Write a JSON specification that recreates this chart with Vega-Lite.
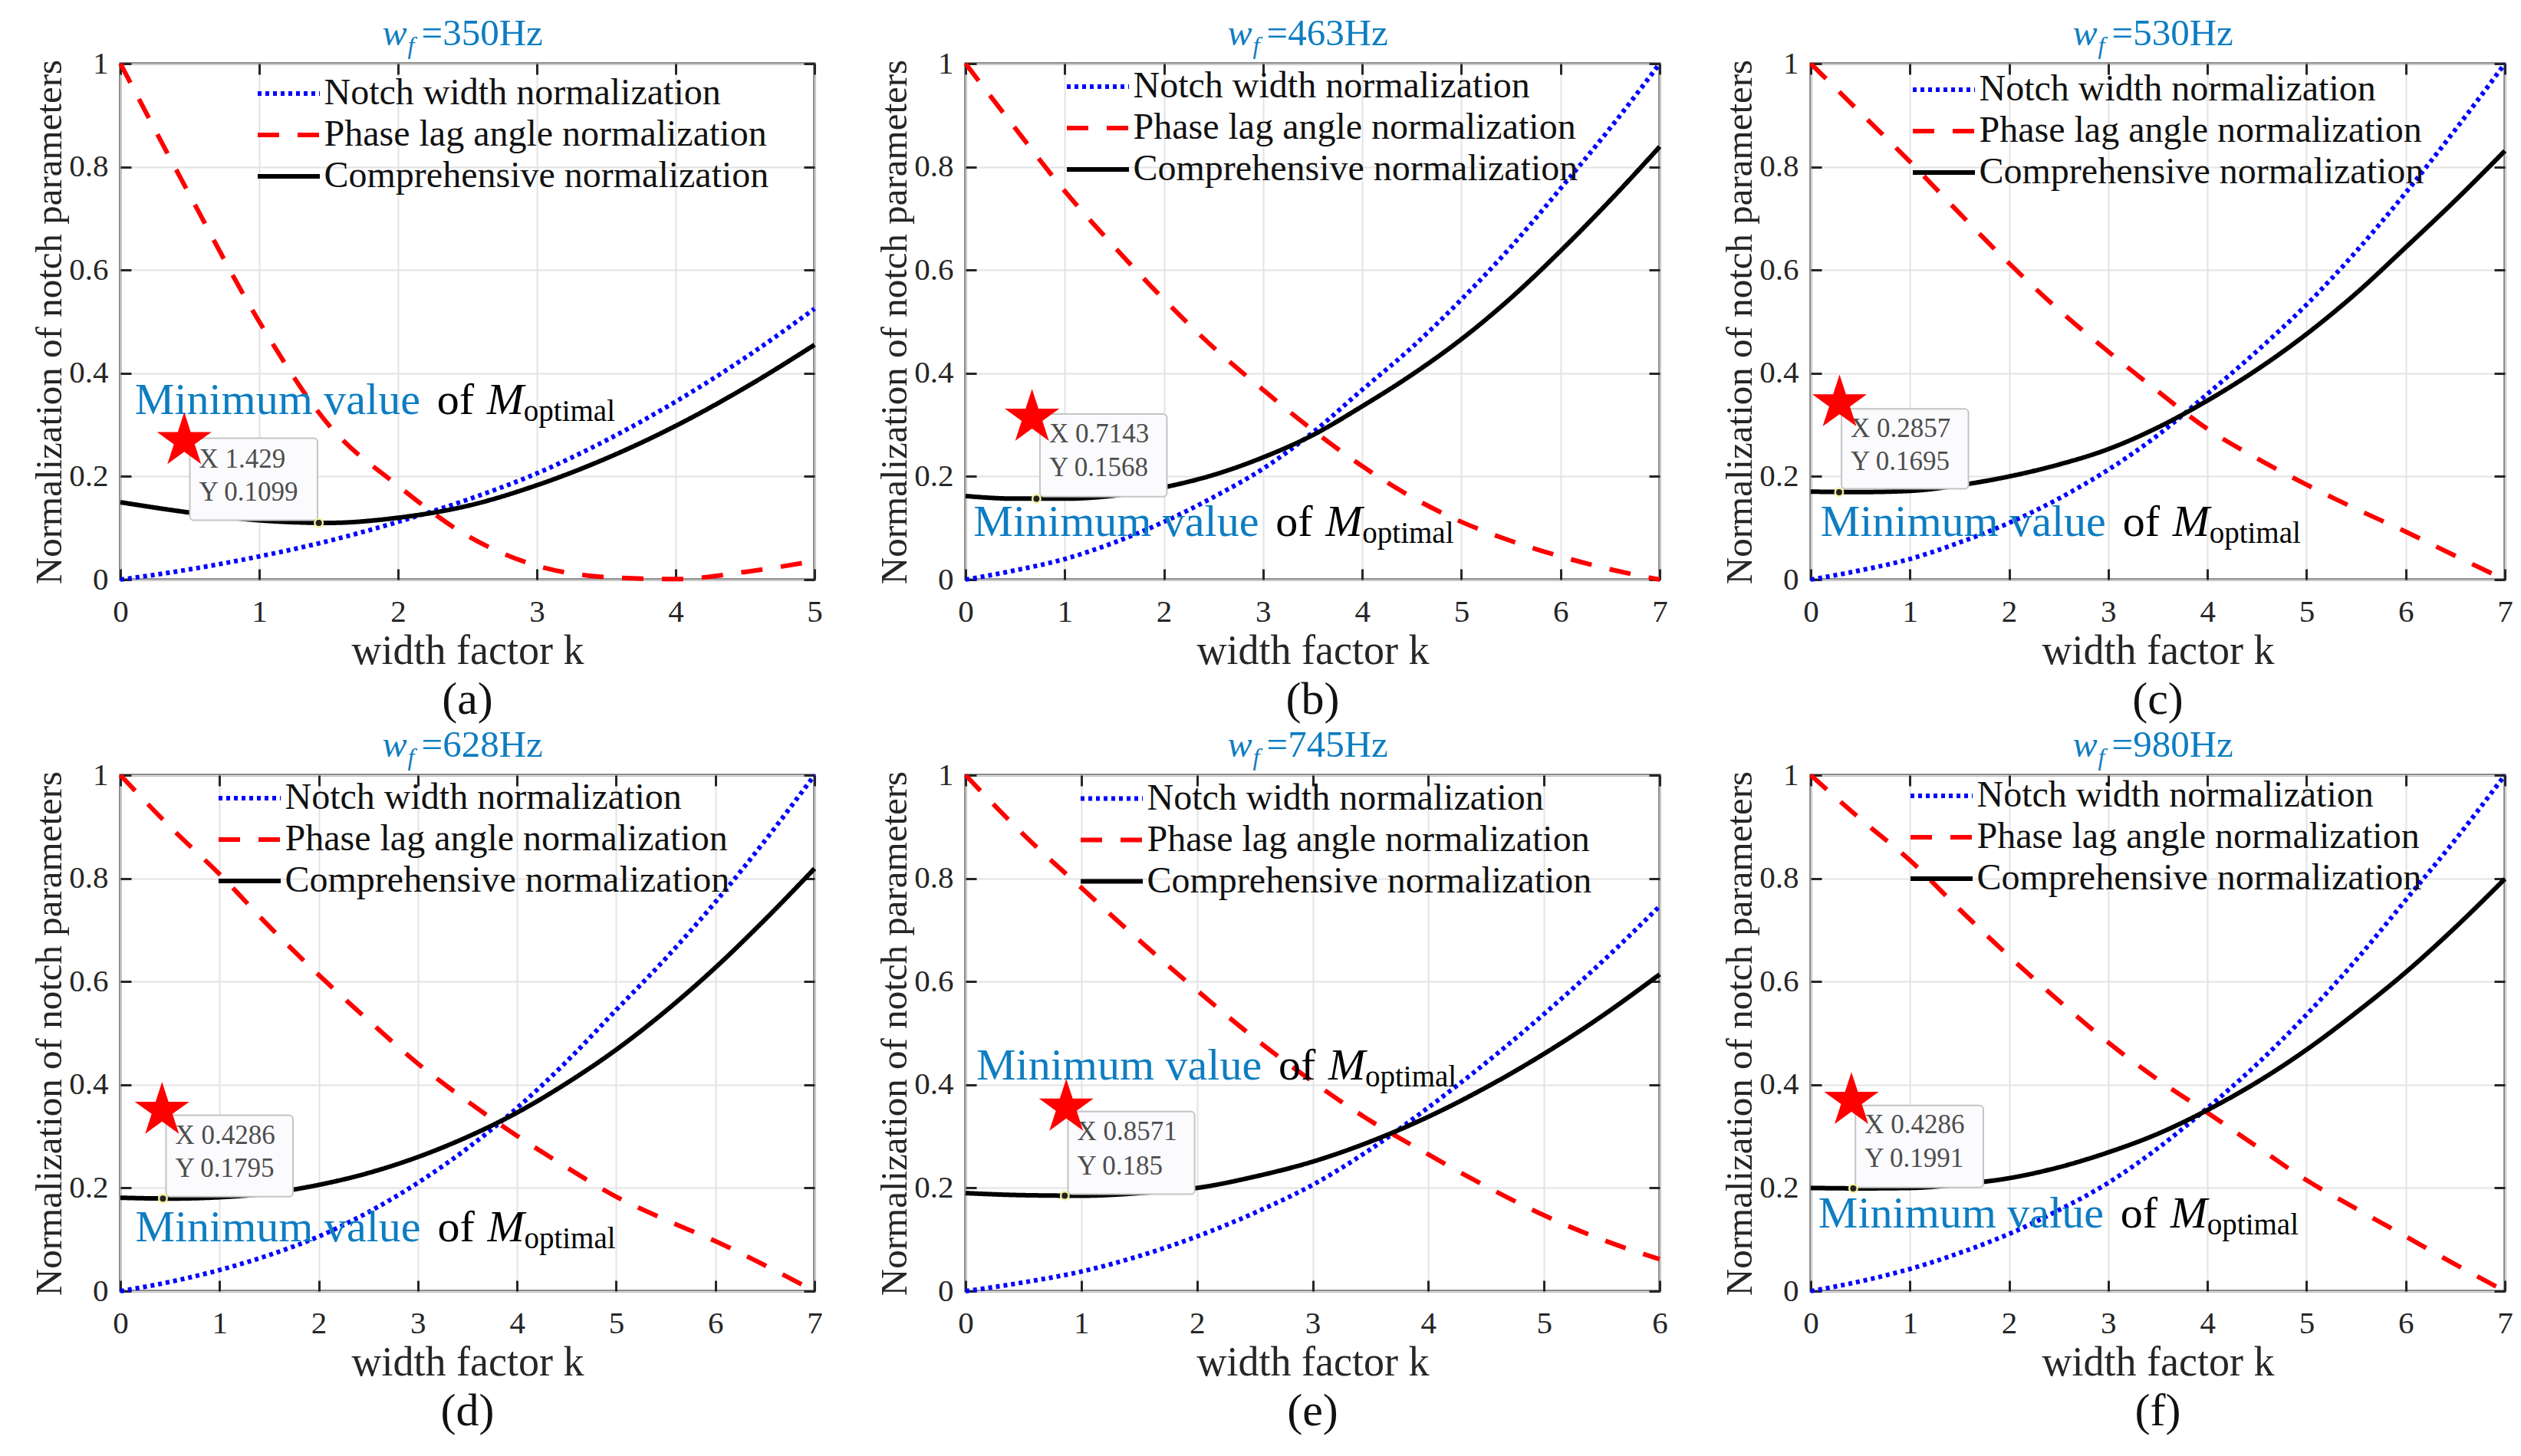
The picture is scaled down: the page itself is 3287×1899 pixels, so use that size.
{
  "$schema": "https://vega.github.io/schema/vega-lite/v6.json",
  "background": "white",
  "padding": {"left": 39, "top": 18, "right": 5, "bottom": 5},
  "bounds": "flush",
  "columns": 3,
  "spacing": {"row": 255, "column": 197},
  "config": {
    "font": "Liberation Serif",
    "view": {"stroke": "#262626", "strokeWidth": 3},
    "axis": {
      "domain": false, "grid": true, "gridColor": "#e3e3e3", "gridWidth": 2,
      "ticks": true, "tickColor": "#262626", "tickWidth": 3, "tickSize": -14,
      "labelFont": "Liberation Serif", "labelFontSize": 41, "labelColor": "#262626",
      "labelFlush": false, "labelOverlap": false, "format": "~g",
      "titleFont": "Liberation Serif", "titleFontWeight": "normal", "titleColor": "#262626"
    },
    "axisX": {"titleFontSize": 54, "titlePadding": 4, "labelPadding": 36},
    "axisY": {"titleFontSize": 49, "titlePadding": 0, "labelPadding": 30},
    "legend": {
      "orient": "none", "labelFont": "Liberation Serif", "labelFontSize": 48, "labelColor": "#111111", "labelLimit": 0,
      "symbolType": "M-1.5,0H1.5", "symbolSize": 2916, "symbolStrokeWidth": 6, "labelOffset": 16,
      "rowPadding": 0, "padding": 0
    },
    "title": {"font": "Liberation Serif", "fontSize": 60, "fontWeight": "normal", "color": "#111111", "offset": 8, "frame": "group"}
  },
  "resolve": {
    "scale": {"x": "independent", "y": "independent", "color": "independent", "strokeDash": "independent"},
    "legend": {"color": "independent", "strokeDash": "independent"}
  },
  "datasets": {
    "curves": [
      {"p":"a","s":"N","k":0,"v":0},{"p":"a","s":"N","k":0.5,"v":0.02},{"p":"a","s":"N","k":1,"v":0.045},{"p":"a","s":"N","k":1.5,"v":0.075},{"p":"a","s":"N","k":2,"v":0.112},{"p":"a","s":"N","k":2.5,"v":0.155},{"p":"a","s":"N","k":3,"v":0.206},{"p":"a","s":"N","k":3.5,"v":0.27},{"p":"a","s":"N","k":4,"v":0.345},{"p":"a","s":"N","k":4.5,"v":0.43},{"p":"a","s":"N","k":5,"v":0.525},
      {"p":"a","s":"P","k":0,"v":1},{"p":"a","s":"P","k":0.5,"v":0.745},{"p":"a","s":"P","k":1,"v":0.5},{"p":"a","s":"P","k":1.5,"v":0.3},{"p":"a","s":"P","k":2,"v":0.182},{"p":"a","s":"P","k":2.5,"v":0.085},{"p":"a","s":"P","k":3,"v":0.027},{"p":"a","s":"P","k":3.5,"v":0.005},{"p":"a","s":"P","k":4,"v":0.001},{"p":"a","s":"P","k":4.5,"v":0.015},{"p":"a","s":"P","k":5,"v":0.036},
      {"p":"a","s":"C","k":0,"v":0.15},{"p":"a","s":"C","k":0.5,"v":0.13},{"p":"a","s":"C","k":1,"v":0.115},{"p":"a","s":"C","k":1.5,"v":0.11},{"p":"a","s":"C","k":2,"v":0.12},{"p":"a","s":"C","k":2.5,"v":0.143},{"p":"a","s":"C","k":3,"v":0.183},{"p":"a","s":"C","k":3.5,"v":0.235},{"p":"a","s":"C","k":4,"v":0.298},{"p":"a","s":"C","k":4.5,"v":0.372},{"p":"a","s":"C","k":5,"v":0.455},

      {"p":"b","s":"N","k":0,"v":0},{"p":"b","s":"N","k":0.5,"v":0.018},{"p":"b","s":"N","k":1,"v":0.04},{"p":"b","s":"N","k":1.5,"v":0.072},{"p":"b","s":"N","k":2,"v":0.112},{"p":"b","s":"N","k":2.5,"v":0.16},{"p":"b","s":"N","k":3,"v":0.215},{"p":"b","s":"N","k":3.5,"v":0.285},{"p":"b","s":"N","k":4,"v":0.368},{"p":"b","s":"N","k":4.5,"v":0.45},{"p":"b","s":"N","k":5,"v":0.543},{"p":"b","s":"N","k":5.5,"v":0.645},{"p":"b","s":"N","k":6,"v":0.758},{"p":"b","s":"N","k":6.5,"v":0.875},{"p":"b","s":"N","k":7,"v":1},
      {"p":"b","s":"P","k":0,"v":1},{"p":"b","s":"P","k":0.5,"v":0.875},{"p":"b","s":"P","k":1,"v":0.753},{"p":"b","s":"P","k":1.5,"v":0.645},{"p":"b","s":"P","k":2,"v":0.543},{"p":"b","s":"P","k":2.5,"v":0.45},{"p":"b","s":"P","k":3,"v":0.368},{"p":"b","s":"P","k":3.5,"v":0.29},{"p":"b","s":"P","k":4,"v":0.22},{"p":"b","s":"P","k":4.5,"v":0.16},{"p":"b","s":"P","k":5,"v":0.112},{"p":"b","s":"P","k":5.5,"v":0.075},{"p":"b","s":"P","k":6,"v":0.045},{"p":"b","s":"P","k":6.5,"v":0.02},{"p":"b","s":"P","k":7,"v":0},
      {"p":"b","s":"C","k":0,"v":0.162},{"p":"b","s":"C","k":0.5,"v":0.157},{"p":"b","s":"C","k":1,"v":0.157},{"p":"b","s":"C","k":1.5,"v":0.163},{"p":"b","s":"C","k":2,"v":0.179},{"p":"b","s":"C","k":2.5,"v":0.203},{"p":"b","s":"C","k":3,"v":0.237},{"p":"b","s":"C","k":3.5,"v":0.28},{"p":"b","s":"C","k":4,"v":0.336},{"p":"b","s":"C","k":4.5,"v":0.397},{"p":"b","s":"C","k":5,"v":0.466},{"p":"b","s":"C","k":5.5,"v":0.546},{"p":"b","s":"C","k":6,"v":0.637},{"p":"b","s":"C","k":6.5,"v":0.735},{"p":"b","s":"C","k":7,"v":0.839},

      {"p":"c","s":"N","k":0,"v":0},{"p":"c","s":"N","k":0.5,"v":0.018},{"p":"c","s":"N","k":1,"v":0.04},{"p":"c","s":"N","k":1.5,"v":0.072},{"p":"c","s":"N","k":2,"v":0.11},{"p":"c","s":"N","k":2.5,"v":0.157},{"p":"c","s":"N","k":3,"v":0.213},{"p":"c","s":"N","k":3.5,"v":0.28},{"p":"c","s":"N","k":4,"v":0.36},{"p":"c","s":"N","k":4.5,"v":0.443},{"p":"c","s":"N","k":5,"v":0.533},{"p":"c","s":"N","k":5.5,"v":0.636},{"p":"c","s":"N","k":6,"v":0.75},{"p":"c","s":"N","k":6.5,"v":0.872},{"p":"c","s":"N","k":7,"v":1},
      {"p":"c","s":"P","k":0,"v":1},{"p":"c","s":"P","k":0.5,"v":0.905},{"p":"c","s":"P","k":1,"v":0.81},{"p":"c","s":"P","k":1.5,"v":0.71},{"p":"c","s":"P","k":2,"v":0.613},{"p":"c","s":"P","k":2.5,"v":0.523},{"p":"c","s":"P","k":3,"v":0.442},{"p":"c","s":"P","k":3.5,"v":0.365},{"p":"c","s":"P","k":4,"v":0.292},{"p":"c","s":"P","k":4.5,"v":0.235},{"p":"c","s":"P","k":5,"v":0.184},{"p":"c","s":"P","k":5.5,"v":0.137},{"p":"c","s":"P","k":6,"v":0.093},{"p":"c","s":"P","k":6.5,"v":0.046},{"p":"c","s":"P","k":7,"v":0},
      {"p":"c","s":"C","k":0,"v":0.1705},{"p":"c","s":"C","k":0.5,"v":0.1698},{"p":"c","s":"C","k":1,"v":0.172},{"p":"c","s":"C","k":1.5,"v":0.183},{"p":"c","s":"C","k":2,"v":0.2},{"p":"c","s":"C","k":2.5,"v":0.223},{"p":"c","s":"C","k":3,"v":0.253},{"p":"c","s":"C","k":3.5,"v":0.295},{"p":"c","s":"C","k":4,"v":0.347},{"p":"c","s":"C","k":4.5,"v":0.407},{"p":"c","s":"C","k":5,"v":0.476},{"p":"c","s":"C","k":5.5,"v":0.555},{"p":"c","s":"C","k":6,"v":0.644},{"p":"c","s":"C","k":6.5,"v":0.735},{"p":"c","s":"C","k":7,"v":0.831},

      {"p":"d","s":"N","k":0,"v":0},{"p":"d","s":"N","k":0.5,"v":0.018},{"p":"d","s":"N","k":1,"v":0.041},{"p":"d","s":"N","k":1.5,"v":0.07},{"p":"d","s":"N","k":2,"v":0.106},{"p":"d","s":"N","k":2.5,"v":0.153},{"p":"d","s":"N","k":3,"v":0.21},{"p":"d","s":"N","k":3.5,"v":0.277},{"p":"d","s":"N","k":4,"v":0.355},{"p":"d","s":"N","k":4.5,"v":0.445},{"p":"d","s":"N","k":5,"v":0.545},{"p":"d","s":"N","k":5.5,"v":0.645},{"p":"d","s":"N","k":6,"v":0.754},{"p":"d","s":"N","k":6.5,"v":0.873},{"p":"d","s":"N","k":7,"v":1},
      {"p":"d","s":"P","k":0,"v":1},{"p":"d","s":"P","k":0.5,"v":0.9},{"p":"d","s":"P","k":1,"v":0.808},{"p":"d","s":"P","k":1.5,"v":0.707},{"p":"d","s":"P","k":2,"v":0.613},{"p":"d","s":"P","k":2.5,"v":0.525},{"p":"d","s":"P","k":3,"v":0.441},{"p":"d","s":"P","k":3.5,"v":0.368},{"p":"d","s":"P","k":4,"v":0.301},{"p":"d","s":"P","k":4.5,"v":0.24},{"p":"d","s":"P","k":5,"v":0.183},{"p":"d","s":"P","k":5.5,"v":0.138},{"p":"d","s":"P","k":6,"v":0.097},{"p":"d","s":"P","k":6.5,"v":0.05},{"p":"d","s":"P","k":7,"v":0},
      {"p":"d","s":"C","k":0,"v":0.181},{"p":"d","s":"C","k":0.5,"v":0.1795},{"p":"d","s":"C","k":1,"v":0.182},{"p":"d","s":"C","k":1.5,"v":0.19},{"p":"d","s":"C","k":2,"v":0.206},{"p":"d","s":"C","k":2.5,"v":0.229},{"p":"d","s":"C","k":3,"v":0.26},{"p":"d","s":"C","k":3.5,"v":0.299},{"p":"d","s":"C","k":4,"v":0.346},{"p":"d","s":"C","k":4.5,"v":0.403},{"p":"d","s":"C","k":5,"v":0.468},{"p":"d","s":"C","k":5.5,"v":0.543},{"p":"d","s":"C","k":6,"v":0.627},{"p":"d","s":"C","k":6.5,"v":0.72},{"p":"d","s":"C","k":7,"v":0.819},

      {"p":"e","s":"N","k":0,"v":0},{"p":"e","s":"N","k":0.5,"v":0.017},{"p":"e","s":"N","k":1,"v":0.038},{"p":"e","s":"N","k":1.5,"v":0.068},{"p":"e","s":"N","k":2,"v":0.106},{"p":"e","s":"N","k":2.5,"v":0.152},{"p":"e","s":"N","k":3,"v":0.206},{"p":"e","s":"N","k":3.5,"v":0.275},{"p":"e","s":"N","k":4,"v":0.356},{"p":"e","s":"N","k":4.5,"v":0.443},{"p":"e","s":"N","k":5,"v":0.537},{"p":"e","s":"N","k":5.5,"v":0.638},{"p":"e","s":"N","k":6,"v":0.746},
      {"p":"e","s":"P","k":0,"v":1},{"p":"e","s":"P","k":0.5,"v":0.885},{"p":"e","s":"P","k":1,"v":0.782},{"p":"e","s":"P","k":1.5,"v":0.68},{"p":"e","s":"P","k":2,"v":0.583},{"p":"e","s":"P","k":2.5,"v":0.49},{"p":"e","s":"P","k":3,"v":0.406},{"p":"e","s":"P","k":3.5,"v":0.33},{"p":"e","s":"P","k":4,"v":0.265},{"p":"e","s":"P","k":4.5,"v":0.203},{"p":"e","s":"P","k":5,"v":0.147},{"p":"e","s":"P","k":5.5,"v":0.1},{"p":"e","s":"P","k":6,"v":0.062},
      {"p":"e","s":"C","k":0,"v":0.19},{"p":"e","s":"C","k":0.5,"v":0.186},{"p":"e","s":"C","k":1,"v":0.185},{"p":"e","s":"C","k":1.5,"v":0.19},{"p":"e","s":"C","k":2,"v":0.2},{"p":"e","s":"C","k":2.5,"v":0.222},{"p":"e","s":"C","k":3,"v":0.251},{"p":"e","s":"C","k":3.5,"v":0.29},{"p":"e","s":"C","k":4,"v":0.338},{"p":"e","s":"C","k":4.5,"v":0.395},{"p":"e","s":"C","k":5,"v":0.46},{"p":"e","s":"C","k":5.5,"v":0.533},{"p":"e","s":"C","k":6,"v":0.614},

      {"p":"f","s":"N","k":0,"v":0},{"p":"f","s":"N","k":0.5,"v":0.019},{"p":"f","s":"N","k":1,"v":0.043},{"p":"f","s":"N","k":1.5,"v":0.074},{"p":"f","s":"N","k":2,"v":0.111},{"p":"f","s":"N","k":2.5,"v":0.157},{"p":"f","s":"N","k":3,"v":0.21},{"p":"f","s":"N","k":3.5,"v":0.277},{"p":"f","s":"N","k":4,"v":0.355},{"p":"f","s":"N","k":4.5,"v":0.44},{"p":"f","s":"N","k":5,"v":0.536},{"p":"f","s":"N","k":5.5,"v":0.642},{"p":"f","s":"N","k":6,"v":0.758},{"p":"f","s":"N","k":6.5,"v":0.875},{"p":"f","s":"N","k":7,"v":1},
      {"p":"f","s":"P","k":0,"v":1},{"p":"f","s":"P","k":0.5,"v":0.915},{"p":"f","s":"P","k":1,"v":0.835},{"p":"f","s":"P","k":1.5,"v":0.74},{"p":"f","s":"P","k":2,"v":0.649},{"p":"f","s":"P","k":2.5,"v":0.563},{"p":"f","s":"P","k":3,"v":0.482},{"p":"f","s":"P","k":3.5,"v":0.41},{"p":"f","s":"P","k":4,"v":0.346},{"p":"f","s":"P","k":4.5,"v":0.28},{"p":"f","s":"P","k":5,"v":0.215},{"p":"f","s":"P","k":5.5,"v":0.16},{"p":"f","s":"P","k":6,"v":0.106},{"p":"f","s":"P","k":6.5,"v":0.052},{"p":"f","s":"P","k":7,"v":0},
      {"p":"f","s":"C","k":0,"v":0.2},{"p":"f","s":"C","k":0.5,"v":0.1992},{"p":"f","s":"C","k":1,"v":0.2},{"p":"f","s":"C","k":1.5,"v":0.207},{"p":"f","s":"C","k":2,"v":0.219},{"p":"f","s":"C","k":2.5,"v":0.24},{"p":"f","s":"C","k":3,"v":0.269},{"p":"f","s":"C","k":3.5,"v":0.305},{"p":"f","s":"C","k":4,"v":0.351},{"p":"f","s":"C","k":4.5,"v":0.405},{"p":"f","s":"C","k":5,"v":0.468},{"p":"f","s":"C","k":5.5,"v":0.54},{"p":"f","s":"C","k":6,"v":0.618},{"p":"f","s":"C","k":6.5,"v":0.705},{"p":"f","s":"C","k":7,"v":0.799}
    ],
    "tips": [
      {"p":"a","bx1":0.5,"bx2":1.42,"by1":0.274,"by2":0.115,"l1":0.233,"l2":0.17,"tx":"X 1.429","ty":"Y 0.1099","px":1.429,"py":0.1099,"sx":0.46,"sy":0.269},
      {"p":"b","bx1":0.75,"bx2":2.03,"by1":0.321,"by2":0.161,"l1":0.283,"l2":0.217,"tx":"X 0.7143","ty":"Y 0.1568","px":0.7143,"py":0.1568,"sx":0.67,"sy":0.314},
      {"p":"c","bx1":0.31,"bx2":1.59,"by1":0.331,"by2":0.176,"l1":0.293,"l2":0.229,"tx":"X 0.2857","ty":"Y 0.1695","px":0.2857,"py":0.1695,"sx":0.29,"sy":0.342},
      {"p":"d","bx1":0.46,"bx2":1.74,"by1":0.341,"by2":0.183,"l1":0.301,"l2":0.237,"tx":"X 0.4286","ty":"Y 0.1795","px":0.4286,"py":0.1795,"sx":0.42,"sy":0.35},
      {"p":"e","bx1":0.885,"bx2":1.98,"by1":0.348,"by2":0.188,"l1":0.309,"l2":0.242,"tx":"X 0.8571","ty":"Y 0.185","px":0.8571,"py":0.185,"sx":0.87,"sy":0.356},
      {"p":"f","bx1":0.45,"bx2":1.74,"by1":0.36,"by2":0.201,"l1":0.322,"l2":0.257,"tx":"X 0.4286","ty":"Y 0.1991","px":0.4286,"py":0.1991,"sx":0.41,"sy":0.369}
    ],
    "notes": [
      {"p":"a","cx":2.5,"tt":"=350Hz","ax":0.104,"ay":0.321},
      {"p":"b","cx":3.5,"tt":"=463Hz","ax":0.08,"ay":0.085},
      {"p":"c","cx":3.5,"tt":"=530Hz","ax":0.098,"ay":0.084},
      {"p":"d","cx":3.5,"tt":"=628Hz","ax":0.15,"ay":0.097},
      {"p":"e","cx":3,"tt":"=745Hz","ax":0.093,"ay":0.41},
      {"p":"f","cx":3.5,"tt":"=980Hz","ax":0.076,"ay":0.124}
    ]
  },
  "concat": [
    {
      "width": 905, "height": 673,
      "title": {"text": "(a)", "orient": "bottom"},
      "resolve": {"axis": {"x": "independent", "y": "independent"}},
      "layer": [
        {"layer": [
          {
            "data": {"name": "curves"}, "transform": [{"filter": "datum.p == 'a'"}],
            "mark": {"type": "line", "interpolate": "monotone", "strokeWidth": 6, "strokeCap": "butt"},
            "encoding": {
              "x": {"field": "k", "type": "quantitative", "scale": {"domain": [0, 5], "nice": false}, "axis": {"values": [0, 1, 2, 3, 4, 5], "title": "width factor k"}},
              "y": {"field": "v", "type": "quantitative", "scale": {"domain": [0, 1], "nice": false}, "axis": {"values": [0, 0.2, 0.4, 0.6, 0.8, 1], "title": "Normalization of notch parameters"}},
              "color": {"field": "s", "type": "nominal", "scale": {"domain": ["N", "P", "C"], "range": ["#0000ff", "#ff0000", "#000000"]},
                "legend": {"title": null, "legendX": 189.5, "legendY": 9, "labelExpr": "{'N': 'Notch width normalization', 'P': 'Phase lag angle normalization', 'C': 'Comprehensive normalization'}[datum.label]"}},
              "strokeDash": {"field": "s", "type": "nominal", "scale": {"domain": ["N", "P", "C"], "range": [[5, 5], [28, 24], [1, 0]]},
                "legend": {"title": null, "legendX": 189.5, "legendY": 9, "labelExpr": "{'N': 'Notch width normalization', 'P': 'Phase lag angle normalization', 'C': 'Comprehensive normalization'}[datum.label]"}}
            }
          },
          {
            "data": {"name": "tips"}, "transform": [{"filter": "datum.p == 'a'"}],
            "layer": [
              {"mark": {"type": "rect", "fill": "#fbfbfe", "stroke": "#c4c4c4", "strokeWidth": 2, "cornerRadius": 5},
               "encoding": {"x": {"field": "bx1", "type": "quantitative"}, "x2": {"field": "bx2"}, "y": {"field": "by1", "type": "quantitative"}, "y2": {"field": "by2"}}},
              {"mark": {"type": "text", "align": "left", "baseline": "middle", "dx": 12, "fontSize": 35, "color": "#4d4d4d"},
               "encoding": {"x": {"field": "bx1", "type": "quantitative"}, "y": {"field": "l1", "type": "quantitative"}, "text": {"field": "tx"}}},
              {"mark": {"type": "text", "align": "left", "baseline": "middle", "dx": 12, "fontSize": 35, "color": "#4d4d4d"},
               "encoding": {"x": {"field": "bx1", "type": "quantitative"}, "y": {"field": "l2", "type": "quantitative"}, "text": {"field": "ty"}}},
              {"mark": {"type": "point", "shape": "circle", "filled": true, "size": 110, "fill": "#222222", "stroke": "#f3f0a0", "strokeWidth": 2.5, "opacity": 1},
               "encoding": {"x": {"field": "px", "type": "quantitative"}, "y": {"field": "py", "type": "quantitative"}}},
              {"mark": {"type": "point", "shape": "M0,-1L0.2245,-0.309L0.951,-0.309L0.363,0.118L0.588,0.809L0,0.382L-0.588,0.809L-0.363,0.118L-0.951,-0.309L-0.2245,-0.309Z", "filled": true, "size": 5600, "color": "#ff0000", "opacity": 1},
               "encoding": {"x": {"field": "sx", "type": "quantitative"}, "y": {"field": "sy", "type": "quantitative"}}}
            ]
          },
          {
            "data": {"name": "notes"}, "transform": [{"filter": "datum.p == 'a'"}],
            "layer": [
              {"mark": {"type": "text", "align": "left", "baseline": "alphabetic", "fontSize": 58, "color": "#0e7dc2"},
               "encoding": {"x": {"field": "ax", "type": "quantitative"}, "y": {"field": "ay", "type": "quantitative"}, "text": {"value": "Minimum value"}}},
              {"mark": {"type": "text", "align": "left", "baseline": "alphabetic", "fontSize": 58, "color": "#000000", "dx": 394},
               "encoding": {"x": {"field": "ax", "type": "quantitative"}, "y": {"field": "ay", "type": "quantitative"}, "text": {"value": "of"}}},
              {"mark": {"type": "text", "align": "left", "baseline": "alphabetic", "fontSize": 58, "fontStyle": "italic", "color": "#000000", "dx": 459},
               "encoding": {"x": {"field": "ax", "type": "quantitative"}, "y": {"field": "ay", "type": "quantitative"}, "text": {"value": "M"}}},
              {"mark": {"type": "text", "align": "left", "baseline": "alphabetic", "fontSize": 39, "color": "#000000", "dx": 507, "dy": 9},
               "encoding": {"x": {"field": "ax", "type": "quantitative"}, "y": {"field": "ay", "type": "quantitative"}, "text": {"value": "optimal"}}},
              {"mark": {"type": "text", "align": "left", "baseline": "alphabetic", "fontSize": 48, "fontStyle": "italic", "color": "#0e7dc2", "dx": -111, "dy": -24},
               "encoding": {"x": {"field": "cx", "type": "quantitative"}, "y": {"datum": 1}, "text": {"value": "w"}}},
              {"mark": {"type": "text", "align": "left", "baseline": "alphabetic", "fontSize": 32, "fontStyle": "italic", "color": "#0e7dc2", "dx": -78, "dy": -13},
               "encoding": {"x": {"field": "cx", "type": "quantitative"}, "y": {"datum": 1}, "text": {"value": "f"}}},
              {"mark": {"type": "text", "align": "left", "baseline": "alphabetic", "fontSize": 49, "color": "#0e7dc2", "dx": -60, "dy": -24},
               "encoding": {"x": {"field": "cx", "type": "quantitative"}, "y": {"datum": 1}, "text": {"field": "tt"}}}
            ]
          }
        ]},
        {
          "data": {"name": "curves"}, "transform": [{"filter": "datum.p == 'a'"}],
          "mark": {"type": "line", "opacity": 0},
          "encoding": {
            "x": {"field": "k", "type": "quantitative", "axis": {"orient": "top", "values": [0, 1, 2, 3, 4, 5], "labels": false, "grid": false, "title": null}},
            "y": {"field": "v", "type": "quantitative", "axis": {"orient": "right", "values": [0, 0.2, 0.4, 0.6, 0.8, 1], "labels": false, "grid": false, "title": null}}
          }
        }
      ]
    },
    {
      "width": 905, "height": 673,
      "title": {"text": "(b)", "orient": "bottom"},
      "resolve": {"axis": {"x": "independent", "y": "independent"}},
      "layer": [
        {"layer": [
          {
            "data": {"name": "curves"}, "transform": [{"filter": "datum.p == 'b'"}],
            "mark": {"type": "line", "interpolate": "monotone", "strokeWidth": 6, "strokeCap": "butt"},
            "encoding": {
              "x": {"field": "k", "type": "quantitative", "scale": {"domain": [0, 7], "nice": false}, "axis": {"values": [0, 1, 2, 3, 4, 5, 6, 7], "title": "width factor k"}},
              "y": {"field": "v", "type": "quantitative", "scale": {"domain": [0, 1], "nice": false}, "axis": {"values": [0, 0.2, 0.4, 0.6, 0.8, 1], "title": "Normalization of notch parameters"}},
              "color": {"field": "s", "type": "nominal", "scale": {"domain": ["N", "P", "C"], "range": ["#0000ff", "#ff0000", "#000000"]},
                "legend": {"title": null, "legendX": 142.5, "legendY": 0, "labelExpr": "{'N': 'Notch width normalization', 'P': 'Phase lag angle normalization', 'C': 'Comprehensive normalization'}[datum.label]"}},
              "strokeDash": {"field": "s", "type": "nominal", "scale": {"domain": ["N", "P", "C"], "range": [[5, 5], [28, 24], [1, 0]]},
                "legend": {"title": null, "legendX": 142.5, "legendY": 0, "labelExpr": "{'N': 'Notch width normalization', 'P': 'Phase lag angle normalization', 'C': 'Comprehensive normalization'}[datum.label]"}}
            }
          },
          {
            "data": {"name": "tips"}, "transform": [{"filter": "datum.p == 'b'"}],
            "layer": [
              {"mark": {"type": "rect", "fill": "#fbfbfe", "stroke": "#c4c4c4", "strokeWidth": 2, "cornerRadius": 5},
               "encoding": {"x": {"field": "bx1", "type": "quantitative"}, "x2": {"field": "bx2"}, "y": {"field": "by1", "type": "quantitative"}, "y2": {"field": "by2"}}},
              {"mark": {"type": "text", "align": "left", "baseline": "middle", "dx": 12, "fontSize": 35, "color": "#4d4d4d"},
               "encoding": {"x": {"field": "bx1", "type": "quantitative"}, "y": {"field": "l1", "type": "quantitative"}, "text": {"field": "tx"}}},
              {"mark": {"type": "text", "align": "left", "baseline": "middle", "dx": 12, "fontSize": 35, "color": "#4d4d4d"},
               "encoding": {"x": {"field": "bx1", "type": "quantitative"}, "y": {"field": "l2", "type": "quantitative"}, "text": {"field": "ty"}}},
              {"mark": {"type": "point", "shape": "circle", "filled": true, "size": 110, "fill": "#222222", "stroke": "#f3f0a0", "strokeWidth": 2.5, "opacity": 1},
               "encoding": {"x": {"field": "px", "type": "quantitative"}, "y": {"field": "py", "type": "quantitative"}}},
              {"mark": {"type": "point", "shape": "M0,-1L0.2245,-0.309L0.951,-0.309L0.363,0.118L0.588,0.809L0,0.382L-0.588,0.809L-0.363,0.118L-0.951,-0.309L-0.2245,-0.309Z", "filled": true, "size": 5600, "color": "#ff0000", "opacity": 1},
               "encoding": {"x": {"field": "sx", "type": "quantitative"}, "y": {"field": "sy", "type": "quantitative"}}}
            ]
          },
          {
            "data": {"name": "notes"}, "transform": [{"filter": "datum.p == 'b'"}],
            "layer": [
              {"mark": {"type": "text", "align": "left", "baseline": "alphabetic", "fontSize": 58, "color": "#0e7dc2"},
               "encoding": {"x": {"field": "ax", "type": "quantitative"}, "y": {"field": "ay", "type": "quantitative"}, "text": {"value": "Minimum value"}}},
              {"mark": {"type": "text", "align": "left", "baseline": "alphabetic", "fontSize": 58, "color": "#000000", "dx": 394},
               "encoding": {"x": {"field": "ax", "type": "quantitative"}, "y": {"field": "ay", "type": "quantitative"}, "text": {"value": "of"}}},
              {"mark": {"type": "text", "align": "left", "baseline": "alphabetic", "fontSize": 58, "fontStyle": "italic", "color": "#000000", "dx": 459},
               "encoding": {"x": {"field": "ax", "type": "quantitative"}, "y": {"field": "ay", "type": "quantitative"}, "text": {"value": "M"}}},
              {"mark": {"type": "text", "align": "left", "baseline": "alphabetic", "fontSize": 39, "color": "#000000", "dx": 507, "dy": 9},
               "encoding": {"x": {"field": "ax", "type": "quantitative"}, "y": {"field": "ay", "type": "quantitative"}, "text": {"value": "optimal"}}},
              {"mark": {"type": "text", "align": "left", "baseline": "alphabetic", "fontSize": 48, "fontStyle": "italic", "color": "#0e7dc2", "dx": -111, "dy": -24},
               "encoding": {"x": {"field": "cx", "type": "quantitative"}, "y": {"datum": 1}, "text": {"value": "w"}}},
              {"mark": {"type": "text", "align": "left", "baseline": "alphabetic", "fontSize": 32, "fontStyle": "italic", "color": "#0e7dc2", "dx": -78, "dy": -13},
               "encoding": {"x": {"field": "cx", "type": "quantitative"}, "y": {"datum": 1}, "text": {"value": "f"}}},
              {"mark": {"type": "text", "align": "left", "baseline": "alphabetic", "fontSize": 49, "color": "#0e7dc2", "dx": -60, "dy": -24},
               "encoding": {"x": {"field": "cx", "type": "quantitative"}, "y": {"datum": 1}, "text": {"field": "tt"}}}
            ]
          }
        ]},
        {
          "data": {"name": "curves"}, "transform": [{"filter": "datum.p == 'b'"}],
          "mark": {"type": "line", "opacity": 0},
          "encoding": {
            "x": {"field": "k", "type": "quantitative", "axis": {"orient": "top", "values": [0, 1, 2, 3, 4, 5, 6, 7], "labels": false, "grid": false, "title": null}},
            "y": {"field": "v", "type": "quantitative", "axis": {"orient": "right", "values": [0, 0.2, 0.4, 0.6, 0.8, 1], "labels": false, "grid": false, "title": null}}
          }
        }
      ]
    },
    {
      "width": 905, "height": 673,
      "title": {"text": "(c)", "orient": "bottom"},
      "resolve": {"axis": {"x": "independent", "y": "independent"}},
      "layer": [
        {"layer": [
          {
            "data": {"name": "curves"}, "transform": [{"filter": "datum.p == 'c'"}],
            "mark": {"type": "line", "interpolate": "monotone", "strokeWidth": 6, "strokeCap": "butt"},
            "encoding": {
              "x": {"field": "k", "type": "quantitative", "scale": {"domain": [0, 7], "nice": false}, "axis": {"values": [0, 1, 2, 3, 4, 5, 6, 7], "title": "width factor k"}},
              "y": {"field": "v", "type": "quantitative", "scale": {"domain": [0, 1], "nice": false}, "axis": {"values": [0, 0.2, 0.4, 0.6, 0.8, 1], "title": "Normalization of notch parameters"}},
              "color": {"field": "s", "type": "nominal", "scale": {"domain": ["N", "P", "C"], "range": ["#0000ff", "#ff0000", "#000000"]},
                "legend": {"title": null, "legendX": 143.5, "legendY": 4, "labelExpr": "{'N': 'Notch width normalization', 'P': 'Phase lag angle normalization', 'C': 'Comprehensive normalization'}[datum.label]"}},
              "strokeDash": {"field": "s", "type": "nominal", "scale": {"domain": ["N", "P", "C"], "range": [[5, 5], [28, 24], [1, 0]]},
                "legend": {"title": null, "legendX": 143.5, "legendY": 4, "labelExpr": "{'N': 'Notch width normalization', 'P': 'Phase lag angle normalization', 'C': 'Comprehensive normalization'}[datum.label]"}}
            }
          },
          {
            "data": {"name": "tips"}, "transform": [{"filter": "datum.p == 'c'"}],
            "layer": [
              {"mark": {"type": "rect", "fill": "#fbfbfe", "stroke": "#c4c4c4", "strokeWidth": 2, "cornerRadius": 5},
               "encoding": {"x": {"field": "bx1", "type": "quantitative"}, "x2": {"field": "bx2"}, "y": {"field": "by1", "type": "quantitative"}, "y2": {"field": "by2"}}},
              {"mark": {"type": "text", "align": "left", "baseline": "middle", "dx": 12, "fontSize": 35, "color": "#4d4d4d"},
               "encoding": {"x": {"field": "bx1", "type": "quantitative"}, "y": {"field": "l1", "type": "quantitative"}, "text": {"field": "tx"}}},
              {"mark": {"type": "text", "align": "left", "baseline": "middle", "dx": 12, "fontSize": 35, "color": "#4d4d4d"},
               "encoding": {"x": {"field": "bx1", "type": "quantitative"}, "y": {"field": "l2", "type": "quantitative"}, "text": {"field": "ty"}}},
              {"mark": {"type": "point", "shape": "circle", "filled": true, "size": 110, "fill": "#222222", "stroke": "#f3f0a0", "strokeWidth": 2.5, "opacity": 1},
               "encoding": {"x": {"field": "px", "type": "quantitative"}, "y": {"field": "py", "type": "quantitative"}}},
              {"mark": {"type": "point", "shape": "M0,-1L0.2245,-0.309L0.951,-0.309L0.363,0.118L0.588,0.809L0,0.382L-0.588,0.809L-0.363,0.118L-0.951,-0.309L-0.2245,-0.309Z", "filled": true, "size": 5600, "color": "#ff0000", "opacity": 1},
               "encoding": {"x": {"field": "sx", "type": "quantitative"}, "y": {"field": "sy", "type": "quantitative"}}}
            ]
          },
          {
            "data": {"name": "notes"}, "transform": [{"filter": "datum.p == 'c'"}],
            "layer": [
              {"mark": {"type": "text", "align": "left", "baseline": "alphabetic", "fontSize": 58, "color": "#0e7dc2"},
               "encoding": {"x": {"field": "ax", "type": "quantitative"}, "y": {"field": "ay", "type": "quantitative"}, "text": {"value": "Minimum value"}}},
              {"mark": {"type": "text", "align": "left", "baseline": "alphabetic", "fontSize": 58, "color": "#000000", "dx": 394},
               "encoding": {"x": {"field": "ax", "type": "quantitative"}, "y": {"field": "ay", "type": "quantitative"}, "text": {"value": "of"}}},
              {"mark": {"type": "text", "align": "left", "baseline": "alphabetic", "fontSize": 58, "fontStyle": "italic", "color": "#000000", "dx": 459},
               "encoding": {"x": {"field": "ax", "type": "quantitative"}, "y": {"field": "ay", "type": "quantitative"}, "text": {"value": "M"}}},
              {"mark": {"type": "text", "align": "left", "baseline": "alphabetic", "fontSize": 39, "color": "#000000", "dx": 507, "dy": 9},
               "encoding": {"x": {"field": "ax", "type": "quantitative"}, "y": {"field": "ay", "type": "quantitative"}, "text": {"value": "optimal"}}},
              {"mark": {"type": "text", "align": "left", "baseline": "alphabetic", "fontSize": 48, "fontStyle": "italic", "color": "#0e7dc2", "dx": -111, "dy": -24},
               "encoding": {"x": {"field": "cx", "type": "quantitative"}, "y": {"datum": 1}, "text": {"value": "w"}}},
              {"mark": {"type": "text", "align": "left", "baseline": "alphabetic", "fontSize": 32, "fontStyle": "italic", "color": "#0e7dc2", "dx": -78, "dy": -13},
               "encoding": {"x": {"field": "cx", "type": "quantitative"}, "y": {"datum": 1}, "text": {"value": "f"}}},
              {"mark": {"type": "text", "align": "left", "baseline": "alphabetic", "fontSize": 49, "color": "#0e7dc2", "dx": -60, "dy": -24},
               "encoding": {"x": {"field": "cx", "type": "quantitative"}, "y": {"datum": 1}, "text": {"field": "tt"}}}
            ]
          }
        ]},
        {
          "data": {"name": "curves"}, "transform": [{"filter": "datum.p == 'c'"}],
          "mark": {"type": "line", "opacity": 0},
          "encoding": {
            "x": {"field": "k", "type": "quantitative", "axis": {"orient": "top", "values": [0, 1, 2, 3, 4, 5, 6, 7], "labels": false, "grid": false, "title": null}},
            "y": {"field": "v", "type": "quantitative", "axis": {"orient": "right", "values": [0, 0.2, 0.4, 0.6, 0.8, 1], "labels": false, "grid": false, "title": null}}
          }
        }
      ]
    },
    {
      "width": 905, "height": 673,
      "title": {"text": "(d)", "orient": "bottom"},
      "resolve": {"axis": {"x": "independent", "y": "independent"}},
      "layer": [
        {"layer": [
          {
            "data": {"name": "curves"}, "transform": [{"filter": "datum.p == 'd'"}],
            "mark": {"type": "line", "interpolate": "monotone", "strokeWidth": 6, "strokeCap": "butt"},
            "encoding": {
              "x": {"field": "k", "type": "quantitative", "scale": {"domain": [0, 7], "nice": false}, "axis": {"values": [0, 1, 2, 3, 4, 5, 6, 7], "title": "width factor k"}},
              "y": {"field": "v", "type": "quantitative", "scale": {"domain": [0, 1], "nice": false}, "axis": {"values": [0, 0.2, 0.4, 0.6, 0.8, 1], "title": "Normalization of notch parameters"}},
              "color": {"field": "s", "type": "nominal", "scale": {"domain": ["N", "P", "C"], "range": ["#0000ff", "#ff0000", "#000000"]},
                "legend": {"title": null, "legendX": 138.5, "legendY": 0, "labelExpr": "{'N': 'Notch width normalization', 'P': 'Phase lag angle normalization', 'C': 'Comprehensive normalization'}[datum.label]"}},
              "strokeDash": {"field": "s", "type": "nominal", "scale": {"domain": ["N", "P", "C"], "range": [[5, 5], [28, 24], [1, 0]]},
                "legend": {"title": null, "legendX": 138.5, "legendY": 0, "labelExpr": "{'N': 'Notch width normalization', 'P': 'Phase lag angle normalization', 'C': 'Comprehensive normalization'}[datum.label]"}}
            }
          },
          {
            "data": {"name": "tips"}, "transform": [{"filter": "datum.p == 'd'"}],
            "layer": [
              {"mark": {"type": "rect", "fill": "#fbfbfe", "stroke": "#c4c4c4", "strokeWidth": 2, "cornerRadius": 5},
               "encoding": {"x": {"field": "bx1", "type": "quantitative"}, "x2": {"field": "bx2"}, "y": {"field": "by1", "type": "quantitative"}, "y2": {"field": "by2"}}},
              {"mark": {"type": "text", "align": "left", "baseline": "middle", "dx": 12, "fontSize": 35, "color": "#4d4d4d"},
               "encoding": {"x": {"field": "bx1", "type": "quantitative"}, "y": {"field": "l1", "type": "quantitative"}, "text": {"field": "tx"}}},
              {"mark": {"type": "text", "align": "left", "baseline": "middle", "dx": 12, "fontSize": 35, "color": "#4d4d4d"},
               "encoding": {"x": {"field": "bx1", "type": "quantitative"}, "y": {"field": "l2", "type": "quantitative"}, "text": {"field": "ty"}}},
              {"mark": {"type": "point", "shape": "circle", "filled": true, "size": 110, "fill": "#222222", "stroke": "#f3f0a0", "strokeWidth": 2.5, "opacity": 1},
               "encoding": {"x": {"field": "px", "type": "quantitative"}, "y": {"field": "py", "type": "quantitative"}}},
              {"mark": {"type": "point", "shape": "M0,-1L0.2245,-0.309L0.951,-0.309L0.363,0.118L0.588,0.809L0,0.382L-0.588,0.809L-0.363,0.118L-0.951,-0.309L-0.2245,-0.309Z", "filled": true, "size": 5600, "color": "#ff0000", "opacity": 1},
               "encoding": {"x": {"field": "sx", "type": "quantitative"}, "y": {"field": "sy", "type": "quantitative"}}}
            ]
          },
          {
            "data": {"name": "notes"}, "transform": [{"filter": "datum.p == 'd'"}],
            "layer": [
              {"mark": {"type": "text", "align": "left", "baseline": "alphabetic", "fontSize": 58, "color": "#0e7dc2"},
               "encoding": {"x": {"field": "ax", "type": "quantitative"}, "y": {"field": "ay", "type": "quantitative"}, "text": {"value": "Minimum value"}}},
              {"mark": {"type": "text", "align": "left", "baseline": "alphabetic", "fontSize": 58, "color": "#000000", "dx": 394},
               "encoding": {"x": {"field": "ax", "type": "quantitative"}, "y": {"field": "ay", "type": "quantitative"}, "text": {"value": "of"}}},
              {"mark": {"type": "text", "align": "left", "baseline": "alphabetic", "fontSize": 58, "fontStyle": "italic", "color": "#000000", "dx": 459},
               "encoding": {"x": {"field": "ax", "type": "quantitative"}, "y": {"field": "ay", "type": "quantitative"}, "text": {"value": "M"}}},
              {"mark": {"type": "text", "align": "left", "baseline": "alphabetic", "fontSize": 39, "color": "#000000", "dx": 507, "dy": 9},
               "encoding": {"x": {"field": "ax", "type": "quantitative"}, "y": {"field": "ay", "type": "quantitative"}, "text": {"value": "optimal"}}},
              {"mark": {"type": "text", "align": "left", "baseline": "alphabetic", "fontSize": 48, "fontStyle": "italic", "color": "#0e7dc2", "dx": -111, "dy": -24},
               "encoding": {"x": {"field": "cx", "type": "quantitative"}, "y": {"datum": 1}, "text": {"value": "w"}}},
              {"mark": {"type": "text", "align": "left", "baseline": "alphabetic", "fontSize": 32, "fontStyle": "italic", "color": "#0e7dc2", "dx": -78, "dy": -13},
               "encoding": {"x": {"field": "cx", "type": "quantitative"}, "y": {"datum": 1}, "text": {"value": "f"}}},
              {"mark": {"type": "text", "align": "left", "baseline": "alphabetic", "fontSize": 49, "color": "#0e7dc2", "dx": -60, "dy": -24},
               "encoding": {"x": {"field": "cx", "type": "quantitative"}, "y": {"datum": 1}, "text": {"field": "tt"}}}
            ]
          }
        ]},
        {
          "data": {"name": "curves"}, "transform": [{"filter": "datum.p == 'd'"}],
          "mark": {"type": "line", "opacity": 0},
          "encoding": {
            "x": {"field": "k", "type": "quantitative", "axis": {"orient": "top", "values": [0, 1, 2, 3, 4, 5, 6, 7], "labels": false, "grid": false, "title": null}},
            "y": {"field": "v", "type": "quantitative", "axis": {"orient": "right", "values": [0, 0.2, 0.4, 0.6, 0.8, 1], "labels": false, "grid": false, "title": null}}
          }
        }
      ]
    },
    {
      "width": 905, "height": 673,
      "title": {"text": "(e)", "orient": "bottom"},
      "resolve": {"axis": {"x": "independent", "y": "independent"}},
      "layer": [
        {"layer": [
          {
            "data": {"name": "curves"}, "transform": [{"filter": "datum.p == 'e'"}],
            "mark": {"type": "line", "interpolate": "monotone", "strokeWidth": 6, "strokeCap": "butt"},
            "encoding": {
              "x": {"field": "k", "type": "quantitative", "scale": {"domain": [0, 6], "nice": false}, "axis": {"values": [0, 1, 2, 3, 4, 5, 6], "title": "width factor k"}},
              "y": {"field": "v", "type": "quantitative", "scale": {"domain": [0, 1], "nice": false}, "axis": {"values": [0, 0.2, 0.4, 0.6, 0.8, 1], "title": "Normalization of notch parameters"}},
              "color": {"field": "s", "type": "nominal", "scale": {"domain": ["N", "P", "C"], "range": ["#0000ff", "#ff0000", "#000000"]},
                "legend": {"title": null, "legendX": 160.5, "legendY": 0.5, "labelExpr": "{'N': 'Notch width normalization', 'P': 'Phase lag angle normalization', 'C': 'Comprehensive normalization'}[datum.label]"}},
              "strokeDash": {"field": "s", "type": "nominal", "scale": {"domain": ["N", "P", "C"], "range": [[5, 5], [28, 24], [1, 0]]},
                "legend": {"title": null, "legendX": 160.5, "legendY": 0.5, "labelExpr": "{'N': 'Notch width normalization', 'P': 'Phase lag angle normalization', 'C': 'Comprehensive normalization'}[datum.label]"}}
            }
          },
          {
            "data": {"name": "tips"}, "transform": [{"filter": "datum.p == 'e'"}],
            "layer": [
              {"mark": {"type": "rect", "fill": "#fbfbfe", "stroke": "#c4c4c4", "strokeWidth": 2, "cornerRadius": 5},
               "encoding": {"x": {"field": "bx1", "type": "quantitative"}, "x2": {"field": "bx2"}, "y": {"field": "by1", "type": "quantitative"}, "y2": {"field": "by2"}}},
              {"mark": {"type": "text", "align": "left", "baseline": "middle", "dx": 12, "fontSize": 35, "color": "#4d4d4d"},
               "encoding": {"x": {"field": "bx1", "type": "quantitative"}, "y": {"field": "l1", "type": "quantitative"}, "text": {"field": "tx"}}},
              {"mark": {"type": "text", "align": "left", "baseline": "middle", "dx": 12, "fontSize": 35, "color": "#4d4d4d"},
               "encoding": {"x": {"field": "bx1", "type": "quantitative"}, "y": {"field": "l2", "type": "quantitative"}, "text": {"field": "ty"}}},
              {"mark": {"type": "point", "shape": "circle", "filled": true, "size": 110, "fill": "#222222", "stroke": "#f3f0a0", "strokeWidth": 2.5, "opacity": 1},
               "encoding": {"x": {"field": "px", "type": "quantitative"}, "y": {"field": "py", "type": "quantitative"}}},
              {"mark": {"type": "point", "shape": "M0,-1L0.2245,-0.309L0.951,-0.309L0.363,0.118L0.588,0.809L0,0.382L-0.588,0.809L-0.363,0.118L-0.951,-0.309L-0.2245,-0.309Z", "filled": true, "size": 5600, "color": "#ff0000", "opacity": 1},
               "encoding": {"x": {"field": "sx", "type": "quantitative"}, "y": {"field": "sy", "type": "quantitative"}}}
            ]
          },
          {
            "data": {"name": "notes"}, "transform": [{"filter": "datum.p == 'e'"}],
            "layer": [
              {"mark": {"type": "text", "align": "left", "baseline": "alphabetic", "fontSize": 58, "color": "#0e7dc2"},
               "encoding": {"x": {"field": "ax", "type": "quantitative"}, "y": {"field": "ay", "type": "quantitative"}, "text": {"value": "Minimum value"}}},
              {"mark": {"type": "text", "align": "left", "baseline": "alphabetic", "fontSize": 58, "color": "#000000", "dx": 394},
               "encoding": {"x": {"field": "ax", "type": "quantitative"}, "y": {"field": "ay", "type": "quantitative"}, "text": {"value": "of"}}},
              {"mark": {"type": "text", "align": "left", "baseline": "alphabetic", "fontSize": 58, "fontStyle": "italic", "color": "#000000", "dx": 459},
               "encoding": {"x": {"field": "ax", "type": "quantitative"}, "y": {"field": "ay", "type": "quantitative"}, "text": {"value": "M"}}},
              {"mark": {"type": "text", "align": "left", "baseline": "alphabetic", "fontSize": 39, "color": "#000000", "dx": 507, "dy": 9},
               "encoding": {"x": {"field": "ax", "type": "quantitative"}, "y": {"field": "ay", "type": "quantitative"}, "text": {"value": "optimal"}}},
              {"mark": {"type": "text", "align": "left", "baseline": "alphabetic", "fontSize": 48, "fontStyle": "italic", "color": "#0e7dc2", "dx": -111, "dy": -24},
               "encoding": {"x": {"field": "cx", "type": "quantitative"}, "y": {"datum": 1}, "text": {"value": "w"}}},
              {"mark": {"type": "text", "align": "left", "baseline": "alphabetic", "fontSize": 32, "fontStyle": "italic", "color": "#0e7dc2", "dx": -78, "dy": -13},
               "encoding": {"x": {"field": "cx", "type": "quantitative"}, "y": {"datum": 1}, "text": {"value": "f"}}},
              {"mark": {"type": "text", "align": "left", "baseline": "alphabetic", "fontSize": 49, "color": "#0e7dc2", "dx": -60, "dy": -24},
               "encoding": {"x": {"field": "cx", "type": "quantitative"}, "y": {"datum": 1}, "text": {"field": "tt"}}}
            ]
          }
        ]},
        {
          "data": {"name": "curves"}, "transform": [{"filter": "datum.p == 'e'"}],
          "mark": {"type": "line", "opacity": 0},
          "encoding": {
            "x": {"field": "k", "type": "quantitative", "axis": {"orient": "top", "values": [0, 1, 2, 3, 4, 5, 6], "labels": false, "grid": false, "title": null}},
            "y": {"field": "v", "type": "quantitative", "axis": {"orient": "right", "values": [0, 0.2, 0.4, 0.6, 0.8, 1], "labels": false, "grid": false, "title": null}}
          }
        }
      ]
    },
    {
      "width": 905, "height": 673,
      "title": {"text": "(f)", "orient": "bottom"},
      "resolve": {"axis": {"x": "independent", "y": "independent"}},
      "layer": [
        {"layer": [
          {
            "data": {"name": "curves"}, "transform": [{"filter": "datum.p == 'f'"}],
            "mark": {"type": "line", "interpolate": "monotone", "strokeWidth": 6, "strokeCap": "butt"},
            "encoding": {
              "x": {"field": "k", "type": "quantitative", "scale": {"domain": [0, 7], "nice": false}, "axis": {"values": [0, 1, 2, 3, 4, 5, 6, 7], "title": "width factor k"}},
              "y": {"field": "v", "type": "quantitative", "scale": {"domain": [0, 1], "nice": false}, "axis": {"values": [0, 0.2, 0.4, 0.6, 0.8, 1], "title": "Normalization of notch parameters"}},
              "color": {"field": "s", "type": "nominal", "scale": {"domain": ["N", "P", "C"], "range": ["#0000ff", "#ff0000", "#000000"]},
                "legend": {"title": null, "legendX": 140.5, "legendY": -3, "labelExpr": "{'N': 'Notch width normalization', 'P': 'Phase lag angle normalization', 'C': 'Comprehensive normalization'}[datum.label]"}},
              "strokeDash": {"field": "s", "type": "nominal", "scale": {"domain": ["N", "P", "C"], "range": [[5, 5], [28, 24], [1, 0]]},
                "legend": {"title": null, "legendX": 140.5, "legendY": -3, "labelExpr": "{'N': 'Notch width normalization', 'P': 'Phase lag angle normalization', 'C': 'Comprehensive normalization'}[datum.label]"}}
            }
          },
          {
            "data": {"name": "tips"}, "transform": [{"filter": "datum.p == 'f'"}],
            "layer": [
              {"mark": {"type": "rect", "fill": "#fbfbfe", "stroke": "#c4c4c4", "strokeWidth": 2, "cornerRadius": 5},
               "encoding": {"x": {"field": "bx1", "type": "quantitative"}, "x2": {"field": "bx2"}, "y": {"field": "by1", "type": "quantitative"}, "y2": {"field": "by2"}}},
              {"mark": {"type": "text", "align": "left", "baseline": "middle", "dx": 12, "fontSize": 35, "color": "#4d4d4d"},
               "encoding": {"x": {"field": "bx1", "type": "quantitative"}, "y": {"field": "l1", "type": "quantitative"}, "text": {"field": "tx"}}},
              {"mark": {"type": "text", "align": "left", "baseline": "middle", "dx": 12, "fontSize": 35, "color": "#4d4d4d"},
               "encoding": {"x": {"field": "bx1", "type": "quantitative"}, "y": {"field": "l2", "type": "quantitative"}, "text": {"field": "ty"}}},
              {"mark": {"type": "point", "shape": "circle", "filled": true, "size": 110, "fill": "#222222", "stroke": "#f3f0a0", "strokeWidth": 2.5, "opacity": 1},
               "encoding": {"x": {"field": "px", "type": "quantitative"}, "y": {"field": "py", "type": "quantitative"}}},
              {"mark": {"type": "point", "shape": "M0,-1L0.2245,-0.309L0.951,-0.309L0.363,0.118L0.588,0.809L0,0.382L-0.588,0.809L-0.363,0.118L-0.951,-0.309L-0.2245,-0.309Z", "filled": true, "size": 5600, "color": "#ff0000", "opacity": 1},
               "encoding": {"x": {"field": "sx", "type": "quantitative"}, "y": {"field": "sy", "type": "quantitative"}}}
            ]
          },
          {
            "data": {"name": "notes"}, "transform": [{"filter": "datum.p == 'f'"}],
            "layer": [
              {"mark": {"type": "text", "align": "left", "baseline": "alphabetic", "fontSize": 58, "color": "#0e7dc2"},
               "encoding": {"x": {"field": "ax", "type": "quantitative"}, "y": {"field": "ay", "type": "quantitative"}, "text": {"value": "Minimum value"}}},
              {"mark": {"type": "text", "align": "left", "baseline": "alphabetic", "fontSize": 58, "color": "#000000", "dx": 394},
               "encoding": {"x": {"field": "ax", "type": "quantitative"}, "y": {"field": "ay", "type": "quantitative"}, "text": {"value": "of"}}},
              {"mark": {"type": "text", "align": "left", "baseline": "alphabetic", "fontSize": 58, "fontStyle": "italic", "color": "#000000", "dx": 459},
               "encoding": {"x": {"field": "ax", "type": "quantitative"}, "y": {"field": "ay", "type": "quantitative"}, "text": {"value": "M"}}},
              {"mark": {"type": "text", "align": "left", "baseline": "alphabetic", "fontSize": 39, "color": "#000000", "dx": 507, "dy": 9},
               "encoding": {"x": {"field": "ax", "type": "quantitative"}, "y": {"field": "ay", "type": "quantitative"}, "text": {"value": "optimal"}}},
              {"mark": {"type": "text", "align": "left", "baseline": "alphabetic", "fontSize": 48, "fontStyle": "italic", "color": "#0e7dc2", "dx": -111, "dy": -24},
               "encoding": {"x": {"field": "cx", "type": "quantitative"}, "y": {"datum": 1}, "text": {"value": "w"}}},
              {"mark": {"type": "text", "align": "left", "baseline": "alphabetic", "fontSize": 32, "fontStyle": "italic", "color": "#0e7dc2", "dx": -78, "dy": -13},
               "encoding": {"x": {"field": "cx", "type": "quantitative"}, "y": {"datum": 1}, "text": {"value": "f"}}},
              {"mark": {"type": "text", "align": "left", "baseline": "alphabetic", "fontSize": 49, "color": "#0e7dc2", "dx": -60, "dy": -24},
               "encoding": {"x": {"field": "cx", "type": "quantitative"}, "y": {"datum": 1}, "text": {"field": "tt"}}}
            ]
          }
        ]},
        {
          "data": {"name": "curves"}, "transform": [{"filter": "datum.p == 'f'"}],
          "mark": {"type": "line", "opacity": 0},
          "encoding": {
            "x": {"field": "k", "type": "quantitative", "axis": {"orient": "top", "values": [0, 1, 2, 3, 4, 5, 6, 7], "labels": false, "grid": false, "title": null}},
            "y": {"field": "v", "type": "quantitative", "axis": {"orient": "right", "values": [0, 0.2, 0.4, 0.6, 0.8, 1], "labels": false, "grid": false, "title": null}}
          }
        }
      ]
    }
  ]
}
